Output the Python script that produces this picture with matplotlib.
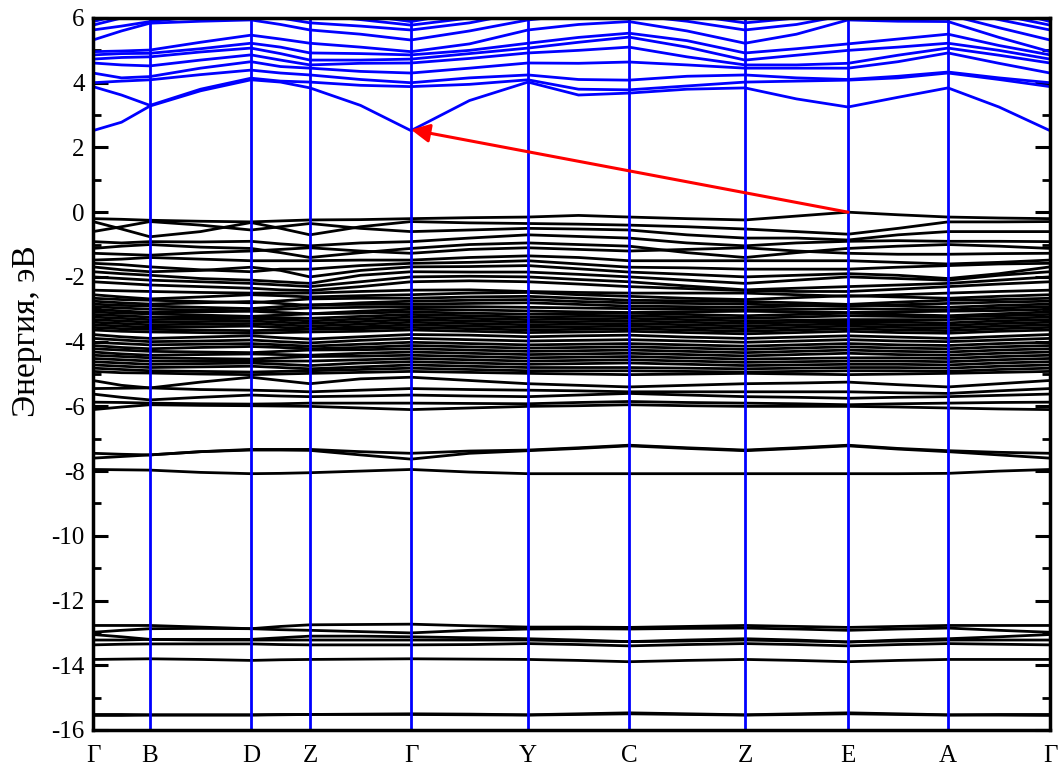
import matplotlib
matplotlib.use("Agg")
import matplotlib.pyplot as plt
from matplotlib.ticker import MultipleLocator

# High-symmetry points (path distance, in arbitrary units)
kpoint_labels = ["Γ", "B", "D", "Z", "Γ", "Y", "C", "Z", "E", "A", "Γ"]
kpoint_pos = [0, 57, 158, 217, 318, 435, 536, 652, 755, 855, 957]

# Each band: energies (eV) at high-symmetry points and the midpoints between them (21 values)
conduction_bands = [
    [2.52, 2.78, 3.28, 3.75, 4.09, 4.02, 3.84, 3.30, 2.52, 3.45, 4.02, 3.62, 3.68, 3.80, 3.84, 3.50, 3.25, 3.55, 3.84, 3.25, 2.52],
    [3.88, 3.62, 3.30, 3.80, 4.14, 4.05, 4.02, 3.92, 3.88, 3.95, 4.09, 3.80, 3.78, 3.90, 4.02, 4.05, 4.08, 4.15, 4.30, 4.10, 3.88],
    [4.00, 4.05, 4.09, 4.25, 4.39, 4.30, 4.24, 4.10, 4.00, 4.15, 4.24, 4.10, 4.08, 4.20, 4.24, 4.15, 4.10, 4.20, 4.33, 4.15, 4.00],
    [4.30, 4.15, 4.19, 4.45, 4.65, 4.50, 4.45, 4.35, 4.30, 4.45, 4.61, 4.60, 4.64, 4.55, 4.45, 4.45, 4.45, 4.65, 4.92, 4.60, 4.30],
    [4.61, 4.55, 4.52, 4.70, 4.86, 4.70, 4.55, 4.60, 4.61, 4.75, 4.92, 5.00, 5.10, 4.80, 4.55, 4.55, 4.60, 4.85, 5.07, 4.85, 4.61],
    [4.73, 4.78, 4.80, 4.95, 5.07, 4.90, 4.70, 4.70, 4.73, 4.90, 5.07, 5.25, 5.41, 5.10, 4.70, 4.85, 5.00, 5.10, 5.22, 5.00, 4.73],
    [4.86, 4.90, 4.91, 5.05, 5.22, 5.10, 4.92, 4.90, 4.86, 5.00, 5.22, 5.40, 5.53, 5.30, 4.92, 5.05, 5.20, 5.35, 5.50, 5.15, 4.86],
    [4.96, 4.98, 5.01, 5.25, 5.47, 5.35, 5.22, 5.10, 4.96, 5.20, 5.63, 5.80, 5.89, 5.60, 5.22, 5.50, 5.94, 5.90, 5.89, 5.40, 4.96],
    [5.32, 5.60, 5.84, 5.90, 5.94, 5.80, 5.63, 5.50, 5.32, 5.60, 5.94, 6.10, 6.10, 5.90, 5.63, 5.80, 6.10, 6.00, 6.10, 5.70, 5.32],
    [5.63, 5.75, 5.89, 6.05, 6.20, 6.00, 5.85, 5.75, 5.63, 5.85, 6.20, 6.30, 6.30, 6.10, 5.85, 6.00, 6.20, 6.20, 6.30, 5.95, 5.63],
    [5.78, 6.00, 6.20, 6.25, 6.30, 6.20, 6.10, 5.95, 5.78, 6.00, 6.30, 6.40, 6.50, 6.30, 6.10, 6.20, 6.40, 6.40, 6.50, 6.10, 5.78],
    [5.89, 6.10, 6.40, 6.45, 6.50, 6.40, 6.30, 6.10, 5.89, 6.20, 6.50, 6.60, 6.70, 6.50, 6.30, 6.40, 6.60, 6.60, 6.70, 6.30, 5.89],
]

upper_valence = [
    [-0.20, -0.22, -0.25, -0.28, -0.30, -0.27, -0.24, -0.23, -0.20, -0.17, -0.15, -0.10, -0.15, -0.20, -0.24, -0.12, 0.00, -0.08, -0.15, -0.18, -0.20],
    [-0.29, -0.52, -0.76, -0.60, -0.32, -0.50, -0.70, -0.45, -0.29, -0.33, -0.35, -0.37, -0.40, -0.45, -0.52, -0.60, -0.68, -0.50, -0.30, -0.30, -0.29],
    [-0.60, -0.45, -0.29, -0.40, -0.55, -0.45, -0.35, -0.50, -0.60, -0.55, -0.50, -0.52, -0.55, -0.70, -0.80, -0.80, -0.86, -0.70, -0.60, -0.60, -0.60],
    [-0.91, -0.95, -0.91, -0.92, -0.90, -0.98, -1.04, -0.95, -0.91, -0.80, -0.70, -0.75, -0.80, -0.95, -1.04, -0.95, -0.90, -0.88, -0.90, -0.90, -0.91],
    [-1.12, -1.05, -1.00, -1.08, -1.12, -1.25, -1.40, -1.25, -1.12, -1.00, -0.95, -1.00, -1.05, -1.25, -1.40, -1.25, -1.12, -1.05, -1.00, -1.05, -1.12],
    [-1.27, -1.30, -1.33, -1.25, -1.20, -1.15, -1.10, -1.20, -1.27, -1.15, -1.10, -1.15, -1.20, -1.15, -1.10, -1.20, -1.27, -1.30, -1.30, -1.28, -1.27],
    [-1.48, -1.45, -1.40, -1.45, -1.50, -1.50, -1.50, -1.48, -1.48, -1.40, -1.35, -1.40, -1.50, -1.50, -1.50, -1.50, -1.50, -1.55, -1.60, -1.55, -1.48],
    [-1.58, -1.62, -1.69, -1.78, -1.84, -1.76, -1.76, -1.65, -1.58, -1.55, -1.50, -1.60, -1.70, -1.72, -1.76, -1.76, -1.76, -1.70, -1.65, -1.60, -1.58],
    [-1.69, -1.78, -1.84, -1.80, -1.70, -1.80, -2.00, -1.80, -1.69, -1.68, -1.65, -1.75, -1.85, -1.92, -2.00, -1.95, -1.90, -1.95, -2.05, -1.90, -1.69],
    [-1.84, -1.90, -1.95, -2.05, -2.10, -2.15, -2.20, -1.95, -1.84, -1.85, -1.85, -1.92, -2.00, -2.10, -2.20, -2.10, -2.00, -2.05, -2.10, -1.95, -1.84],
    [-2.00, -2.05, -2.10, -2.15, -2.20, -2.25, -2.30, -2.15, -2.00, -1.98, -2.00, -2.08, -2.15, -2.28, -2.40, -2.35, -2.30, -2.25, -2.20, -2.10, -2.00],
    [-2.15, -2.20, -2.25, -2.30, -2.35, -2.40, -2.42, -2.30, -2.15, -2.12, -2.15, -2.22, -2.30, -2.36, -2.42, -2.45, -2.45, -2.38, -2.30, -2.22, -2.15],
    [-2.41, -2.43, -2.45, -2.48, -2.50, -2.50, -2.50, -2.45, -2.41, -2.40, -2.45, -2.48, -2.50, -2.50, -2.50, -2.55, -2.60, -2.55, -2.50, -2.45, -2.41],
]

dense_valence = [
    [-2.55, -2.62, -2.68, -2.62, -2.55, -2.58, -2.62, -2.58, -2.55, -2.50, -2.48, -2.55, -2.60, -2.66, -2.70, -2.64, -2.58, -2.62, -2.66, -2.60, -2.55],
    [-2.66, -2.70, -2.72, -2.76, -2.80, -2.74, -2.68, -2.66, -2.66, -2.62, -2.60, -2.66, -2.72, -2.74, -2.76, -2.80, -2.85, -2.78, -2.72, -2.70, -2.66],
    [-2.75, -2.80, -2.84, -2.80, -2.76, -2.82, -2.88, -2.80, -2.75, -2.72, -2.70, -2.76, -2.80, -2.82, -2.84, -2.88, -2.90, -2.86, -2.82, -2.78, -2.75],
    [-2.84, -2.88, -2.90, -2.94, -2.98, -2.92, -2.86, -2.85, -2.84, -2.82, -2.80, -2.85, -2.90, -2.92, -2.94, -2.90, -2.86, -2.90, -2.94, -2.88, -2.84],
    [-2.92, -2.96, -3.00, -3.02, -3.05, -3.00, -2.96, -2.94, -2.92, -2.92, -2.94, -2.96, -2.98, -3.00, -3.02, -3.00, -2.98, -3.00, -3.02, -2.96, -2.92],
    [-3.00, -3.05, -3.10, -3.08, -3.06, -3.10, -3.14, -3.06, -3.00, -3.02, -3.05, -3.08, -3.10, -3.08, -3.06, -3.08, -3.10, -3.08, -3.06, -3.04, -3.00],
    [-3.08, -3.12, -3.14, -3.18, -3.22, -3.18, -3.14, -3.12, -3.08, -3.12, -3.15, -3.14, -3.12, -3.16, -3.20, -3.16, -3.12, -3.16, -3.20, -3.14, -3.08],
    [-3.16, -3.20, -3.24, -3.24, -3.24, -3.26, -3.28, -3.22, -3.16, -3.20, -3.24, -3.22, -3.20, -3.24, -3.28, -3.24, -3.20, -3.22, -3.24, -3.20, -3.16],
    [-3.24, -3.28, -3.32, -3.30, -3.28, -3.32, -3.36, -3.30, -3.24, -3.28, -3.32, -3.30, -3.28, -3.32, -3.36, -3.34, -3.32, -3.32, -3.32, -3.28, -3.24],
    [-3.32, -3.36, -3.40, -3.38, -3.36, -3.40, -3.44, -3.38, -3.32, -3.36, -3.40, -3.38, -3.36, -3.40, -3.44, -3.40, -3.38, -3.40, -3.42, -3.36, -3.32],
    [-3.40, -3.44, -3.48, -3.46, -3.44, -3.48, -3.52, -3.46, -3.40, -3.44, -3.48, -3.46, -3.44, -3.48, -3.52, -3.48, -3.45, -3.48, -3.50, -3.44, -3.40],
    [-3.48, -3.52, -3.56, -3.54, -3.52, -3.56, -3.60, -3.54, -3.48, -3.52, -3.56, -3.54, -3.52, -3.56, -3.60, -3.56, -3.52, -3.56, -3.58, -3.52, -3.48],
    [-3.56, -3.60, -3.62, -3.64, -3.66, -3.64, -3.62, -3.60, -3.56, -3.60, -3.64, -3.62, -3.60, -3.64, -3.68, -3.64, -3.60, -3.64, -3.66, -3.60, -3.56],
    [-3.64, -3.68, -3.70, -3.72, -3.74, -3.72, -3.70, -3.68, -3.64, -3.68, -3.72, -3.70, -3.68, -3.72, -3.76, -3.72, -3.68, -3.72, -3.74, -3.68, -3.64],
    [-3.78, -3.85, -3.90, -3.86, -3.82, -3.88, -3.92, -3.85, -3.78, -3.80, -3.85, -3.82, -3.80, -3.86, -3.90, -3.86, -3.82, -3.86, -3.90, -3.84, -3.78],
    [-3.90, -3.95, -4.00, -3.98, -3.95, -4.00, -4.04, -3.96, -3.90, -3.94, -3.98, -3.96, -3.94, -3.98, -4.02, -3.98, -3.94, -3.98, -4.00, -3.95, -3.90],
    [-4.02, -4.06, -4.10, -4.08, -4.06, -4.10, -4.14, -4.08, -4.02, -4.06, -4.10, -4.08, -4.06, -4.10, -4.14, -4.10, -4.06, -4.10, -4.12, -4.06, -4.02],
    [-4.12, -4.18, -4.22, -4.18, -4.15, -4.18, -4.22, -4.18, -4.12, -4.16, -4.20, -4.18, -4.16, -4.20, -4.24, -4.20, -4.16, -4.20, -4.22, -4.16, -4.12],
    [-4.22, -4.26, -4.30, -4.32, -4.34, -4.30, -4.26, -4.25, -4.22, -4.26, -4.30, -4.28, -4.26, -4.30, -4.34, -4.30, -4.26, -4.30, -4.32, -4.26, -4.22],
    [-4.32, -4.38, -4.42, -4.40, -4.38, -4.40, -4.42, -4.36, -4.32, -4.36, -4.40, -4.38, -4.36, -4.40, -4.44, -4.40, -4.36, -4.40, -4.42, -4.36, -4.32],
    [-4.42, -4.46, -4.50, -4.52, -4.54, -4.50, -4.46, -4.45, -4.42, -4.46, -4.50, -4.48, -4.46, -4.50, -4.54, -4.52, -4.50, -4.50, -4.52, -4.46, -4.42],
    [-4.52, -4.56, -4.60, -4.60, -4.60, -4.60, -4.60, -4.56, -4.52, -4.56, -4.60, -4.58, -4.56, -4.60, -4.64, -4.62, -4.60, -4.60, -4.62, -4.56, -4.52],
    [-4.62, -4.66, -4.70, -4.68, -4.66, -4.70, -4.74, -4.66, -4.62, -4.66, -4.70, -4.68, -4.66, -4.70, -4.74, -4.72, -4.70, -4.70, -4.72, -4.66, -4.62],
    [-4.72, -4.76, -4.80, -4.78, -4.76, -4.80, -4.84, -4.78, -4.72, -4.76, -4.80, -4.80, -4.80, -4.82, -4.84, -4.82, -4.80, -4.80, -4.82, -4.76, -4.72],
    [-4.82, -4.86, -4.90, -4.92, -4.94, -4.92, -4.90, -4.86, -4.82, -4.86, -4.90, -4.90, -4.90, -4.92, -4.94, -4.92, -4.90, -4.90, -4.92, -4.86, -4.82],
    [-4.92, -4.96, -4.97, -5.00, -5.02, -5.00, -4.98, -4.95, -4.92, -4.95, -4.98, -5.00, -5.02, -5.00, -4.98, -5.00, -5.02, -5.00, -4.98, -4.95, -4.92],
]

lower_valence = [
    [-5.20, -5.35, -5.43, -5.25, -5.10, -5.20, -5.30, -5.15, -5.10, -5.20, -5.30, -5.35, -5.40, -5.35, -5.30, -5.28, -5.25, -5.33, -5.40, -5.30, -5.20],
    [-5.45, -5.44, -5.43, -5.48, -5.50, -5.52, -5.55, -5.50, -5.45, -5.48, -5.50, -5.52, -5.55, -5.55, -5.55, -5.55, -5.55, -5.58, -5.60, -5.52, -5.45],
    [-5.62, -5.72, -5.80, -5.72, -5.65, -5.68, -5.70, -5.68, -5.65, -5.68, -5.70, -5.65, -5.60, -5.65, -5.70, -5.72, -5.75, -5.72, -5.70, -5.66, -5.62],
    [-5.87, -5.88, -5.90, -5.92, -5.93, -5.92, -5.90, -5.90, -5.90, -5.91, -5.92, -5.88, -5.85, -5.88, -5.90, -5.92, -5.95, -5.92, -5.90, -5.88, -5.87],
    [-6.10, -6.02, -5.95, -5.97, -5.98, -5.99, -6.00, -6.05, -6.10, -6.05, -6.00, -5.98, -5.95, -5.98, -6.00, -6.00, -6.00, -6.02, -6.05, -6.08, -6.10],
]

band_7eV = [
    [-7.45, -7.48, -7.50, -7.40, -7.33, -7.33, -7.33, -7.40, -7.45, -7.38, -7.35, -7.28, -7.20, -7.28, -7.35, -7.28, -7.20, -7.30, -7.37, -7.42, -7.45],
    [-7.60, -7.55, -7.50, -7.40, -7.35, -7.35, -7.36, -7.50, -7.63, -7.45, -7.37, -7.30, -7.22, -7.30, -7.37, -7.30, -7.22, -7.32, -7.40, -7.50, -7.60],
    [-7.95, -7.96, -7.97, -8.04, -8.08, -8.07, -8.05, -8.00, -7.95, -8.03, -8.08, -8.08, -8.08, -8.08, -8.08, -8.08, -8.08, -8.08, -8.07, -8.00, -7.95],
]

semicore_13eV = [
    [-12.77, -12.77, -12.77, -12.82, -12.87, -12.80, -12.75, -12.74, -12.73, -12.78, -12.82, -12.82, -12.83, -12.80, -12.77, -12.80, -12.83, -12.80, -12.77, -12.77, -12.77],
    [-12.98, -12.92, -12.87, -12.86, -12.87, -12.90, -12.92, -12.96, -13.00, -12.92, -12.88, -12.87, -12.88, -12.86, -12.85, -12.88, -12.92, -12.88, -12.85, -12.92, -12.98],
    [-13.05, -13.12, -13.20, -13.20, -13.20, -13.15, -13.10, -13.10, -13.12, -13.15, -13.18, -13.22, -13.27, -13.22, -13.18, -13.22, -13.28, -13.22, -13.18, -13.12, -13.05],
    [-13.22, -13.22, -13.20, -13.22, -13.22, -13.22, -13.22, -13.22, -13.22, -13.22, -13.22, -13.25, -13.27, -13.25, -13.22, -13.25, -13.28, -13.25, -13.22, -13.22, -13.22],
    [-13.37, -13.35, -13.34, -13.34, -13.34, -13.36, -13.37, -13.37, -13.37, -13.36, -13.33, -13.36, -13.40, -13.36, -13.33, -13.36, -13.40, -13.36, -13.33, -13.35, -13.37],
    [-13.82, -13.81, -13.80, -13.82, -13.85, -13.83, -13.82, -13.81, -13.80, -13.81, -13.82, -13.85, -13.89, -13.85, -13.82, -13.85, -13.89, -13.85, -13.82, -13.82, -13.82],
]

deep_15eV = [
    [-15.52, -15.52, -15.53, -15.53, -15.53, -15.52, -15.52, -15.51, -15.50, -15.51, -15.53, -15.50, -15.47, -15.50, -15.53, -15.50, -15.47, -15.50, -15.53, -15.52, -15.52],
    [-15.55, -15.55, -15.54, -15.54, -15.54, -15.53, -15.52, -15.52, -15.52, -15.53, -15.54, -15.52, -15.50, -15.52, -15.54, -15.52, -15.50, -15.52, -15.54, -15.54, -15.55],
]

# Band gap arrow: from VBM at E to CBM at Gamma
vbm = (kpoint_pos[8], 0.0)
cbm = (kpoint_pos[4], 2.55)

y_min, y_max = -16, 6

# ---- layout ----
plt.rcParams['font.family'] = ['Liberation Serif', 'DejaVu Serif']

fig = plt.figure(figsize=(10.61, 7.69), dpi=100)
ax = fig.add_axes([93 / 1061, 1 - 730 / 769, (1050 - 93) / 1061, (730 - 18) / 769])

# k grid: high-symmetry points and midpoints
kgrid = []
for i in range(len(kpoint_pos) - 1):
    kgrid.append(kpoint_pos[i])
    kgrid.append((kpoint_pos[i] + kpoint_pos[i + 1]) / 2)
kgrid.append(kpoint_pos[-1])

for group in (upper_valence, dense_valence, lower_valence, band_7eV, semicore_13eV, deep_15eV):
    for band in group:
        ax.plot(kgrid, band, color='black', lw=2.0, solid_joinstyle='round', zorder=2)
for band in conduction_bands:
    ax.plot(kgrid, band, color='#0000ff', lw=2.0, solid_joinstyle='round', zorder=2)

for xp in kpoint_pos[1:-1]:
    ax.axvline(xp, color='#0000ff', lw=2.0, zorder=3)

ax.annotate('', xy=cbm, xytext=vbm,
            arrowprops=dict(arrowstyle='-|>', color='#ff0000', lw=2.2,
                            mutation_scale=28, shrinkA=0, shrinkB=0),
            zorder=5)

ax.set_xlim(kpoint_pos[0], kpoint_pos[-1])
ax.set_ylim(y_min, y_max)
ax.set_xticks(kpoint_pos)
ax.set_xticklabels(kpoint_labels)
ax.tick_params(axis='x', length=0, pad=11, labelsize=18)

ax.yaxis.set_major_locator(MultipleLocator(2))
ax.yaxis.set_minor_locator(MultipleLocator(1))
ax.tick_params(axis='y', which='major', direction='in', length=11, width=2.2,
               left=True, right=True, labelsize=18, pad=6)
ax.tick_params(axis='y', which='minor', direction='in', length=6, width=2.0,
               left=True, right=True)
ax.set_yticks(range(-16, 7, 2))
ax.set_yticklabels([str(v) for v in range(-16, 7, 2)])

for sp in ax.spines.values():
    sp.set_linewidth(2.5)
    sp.set_zorder(6)

ax.set_ylabel('Энергия, эВ', fontsize=24)
ax.yaxis.set_label_coords(-0.053, 0.56)

fig.savefig('out.png', dpi=100)
